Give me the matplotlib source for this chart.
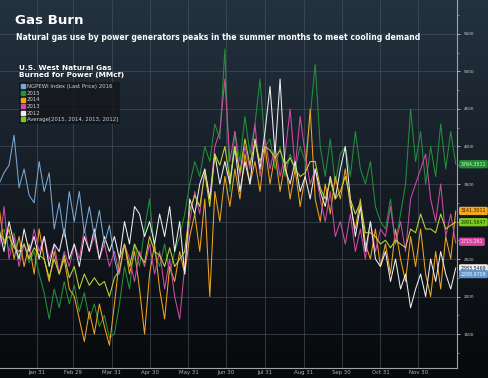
import numpy as np
import matplotlib.pyplot as plt
from matplotlib.lines import Line2D
from matplotlib.colors import LinearSegmentedColormap
from matplotlib.transforms import blended_transform_factory

# day of year (2016 calendar), sampled every 4 days
days = np.arange(0, 365, 4)
days_2016 = list(range(0, 93, 4)) + [95]

ngpewi_2016 = [3500, 3650, 3750, 4150, 3450, 3700, 3350, 3250, 3800, 3400, 3650, 2900,
               3250, 2800, 3400, 3000, 3400, 2850, 3200, 2800, 3150, 2700, 2950, 2500, 2299]

y2015 = [2750, 2900, 2600, 2850, 2500, 2700, 2450, 2600,
         2300, 2050, 1700, 2100, 1850, 2200, 1900,
         2150, 1800, 2050, 1700, 1900, 1600, 1750, 1450,
         1500, 1900, 2400, 2100, 2700, 2400, 2900,
         3300, 2600, 2400, 2700, 2300, 2600, 2800, 3100,
         3500, 3800, 3600, 4000, 3800, 4300, 4100, 5300,
         3400, 4200, 3800, 4400, 3900, 4300, 4900, 4000,
         4100, 3700, 4000, 3600, 3900, 3700, 4000,
         3800, 4400, 5100, 4000, 3600, 4100, 3500, 3900,
         4000, 3600, 4200, 3700, 3500, 3800, 3200, 3000,
         2900, 3300, 2700, 3100, 3500, 4500, 3800,
         4200, 3500, 4000, 3600, 4300, 3700, 4200, 3764]

y2014 = [3200, 2700, 2900, 2500, 2800, 2400, 2700, 2300,
         2900, 2500, 2200, 2600, 2300, 2500, 2100,
         2000, 1700, 1400, 1800, 1500, 1900, 1600, 1350,
         1900, 2500, 2700, 2300, 2600, 2100, 1500,
         2300, 2700, 2100, 1700, 2400, 2200, 2600, 2300,
         2800, 3100, 2600, 3300, 2000, 3400, 3000, 3600,
         3200, 3700, 3300, 3900, 3500, 3800, 3400, 4000,
         3500, 3900, 3400, 3800, 3300, 3700, 3200,
         3600, 4500, 3300, 3000, 3500, 3100, 3600, 3300,
         3700, 3200, 2900, 3300, 2700, 2500, 2900, 2400,
         2700, 2300, 2900, 2500, 2200, 2800, 2400,
         2900, 2300, 2000, 2600, 2100, 2800, 2500, 3141]

y2013 = [2600, 3200, 2500, 2800, 2400, 2700, 2500, 2900,
         2600, 2800, 2500, 2700, 2300, 2600, 2400,
         2700, 2500, 2900, 2600, 2800, 2500, 2700, 2400,
         2600, 2300, 2700, 2500, 2200, 2600, 2400,
         2700, 2300, 2600, 2100, 2500, 2000, 1700, 2400,
         3000, 3400, 3100, 3700, 3300, 4000, 4200, 4900,
         3800, 4200, 3600, 4000, 3700, 4300, 3600, 4100,
         3700, 4000, 3600, 3900, 4500, 3700, 4400,
         3900, 3500, 3700, 3300, 3000, 3400, 2800, 3000,
         2700, 3100, 2600, 2900, 2500, 3000, 2600, 2900,
         2800, 3200, 2700, 3000, 2600, 3300, 3500,
         3700, 3900, 3300, 3000, 3500, 2800, 3100, 2715]

y2012 = [2900, 2600, 3000, 2700, 2500, 2900, 2600, 2800,
         2500, 2800, 2400, 2700, 2600, 2900, 2500,
         2700, 2400, 2800, 2600, 2900, 2500, 2800, 2600,
         2800, 2500, 3000, 2700, 3200, 3100, 2800,
         3000, 2700, 3100, 2800, 3200, 2600, 3000, 2300,
         3300, 3100, 3500, 3700, 3300, 3900, 3500, 3800,
         3500, 4000, 3400, 3800, 3500, 4100, 3700, 4200,
         4800, 3900, 4900, 3700, 3500, 3800, 3400,
         3600, 3300, 3700, 3400, 3200, 3600, 3300, 3700,
         4000, 3300, 2800, 3200, 2600, 3000, 2500, 2400,
         2600, 2200, 2500, 2100, 2300, 1850, 2100,
         2300, 2000, 2500, 2200, 2600, 2300, 2100, 2380]

y_avg = [2850, 2750, 2800, 2650, 2600, 2700, 2500, 2650,
         2550, 2500, 2250, 2500, 2300, 2550, 2250,
         2400, 2100, 2300, 2150, 2250, 2150, 2200, 2000,
         2250, 2350, 2700, 2400, 2700, 2550, 2450,
         2800, 2600, 2550, 2400, 2650, 2400, 2500, 2600,
         3150, 3350, 3200, 3650, 3200, 3900, 3750, 4000,
         3550, 4000, 3650, 4100, 3750, 4050, 3800, 4000,
         3950, 3850, 3950, 3750, 3850, 3700, 3600,
         3650, 3800, 3800, 3450, 3300, 3550, 3300, 3400,
         3600, 3300, 3100, 3250, 2850, 2850, 2800, 2700,
         2750, 2650, 2750, 2700, 2650, 2900, 2850,
         3100, 2900, 2900, 2850, 3100, 2900, 2950, 2991]

month_ticks = [30, 59, 90, 120, 151, 181, 212, 243, 273, 304, 334]
month_labels = ['Jan 31', 'Feb 29', 'Mar 31', 'Apr 30', 'May 31', 'Jun 30',
                'Jul 31', 'Aug 31', 'Sep 30', 'Oct 31', 'Nov 30']

c2016, c2015, c2014, c2013, c2012, cavg = '#7ba7d2', '#23903a', '#f2a31f', '#d04aa6', '#eeeeee', '#c2d43a'

fig = plt.figure(figsize=(4.88, 3.78), dpi=100)

# dark gradient background
bg = fig.add_axes([0, 0, 1, 1], zorder=-10)
cmap = LinearSegmentedColormap.from_list('bg', ['#243240', '#151c24', '#07090b'])
bg.imshow(np.linspace(0, 1, 256).reshape(-1, 1), aspect='auto', cmap=cmap, extent=[0, 1, 0, 1])
bg.axis('off')

ax = fig.add_axes([0, 10 / 378, 457 / 488, 368 / 378])
ax.patch.set_alpha(0)
ax.set_xlim(0.8, 365)
ax.set_ylim(1047, 5953)

lw = 0.75
ax.plot(days, y2015, color=c2015, lw=lw)
ax.plot(days, y2014, color=c2014, lw=lw)
ax.plot(days, y2013, color=c2013, lw=lw)
ax.plot(days, y2012, color=c2012, lw=lw)
ax.plot(days, y_avg, color=cavg, lw=lw)
ax.plot(days_2016, ngpewi_2016, color=c2016, lw=lw)

for s in ['top', 'left']:
    ax.spines[s].set_visible(False)
for s in ['right', 'bottom']:
    ax.spines[s].set_color('#a0a4a8')
    ax.spines[s].set_linewidth(0.8)

yt = np.arange(1500, 5501, 500)
ax.yaxis.tick_right()
ax.set_yticks(yt)
# the 3000 label sits under the average tag
ax.set_yticklabels(['' if v == 3000 else str(v) for v in yt])
ax.set_yticks(np.arange(1250, 5800, 250), minor=True)
ax.tick_params(axis='y', which='major', labelsize=3.0, labelcolor='#d0d0d0', color='#c0c4c8',
               length=2.5, width=0.6, pad=2.5)
ax.tick_params(axis='y', which='minor', color='#a0a4a8', length=1.5, width=0.5)
ax.set_xticks(month_ticks)
ax.set_xticklabels(month_labels)
ax.tick_params(axis='x', labelsize=3.9, labelcolor='#b4b4b4', length=0, pad=1.5)
ax.grid(True, which='major', color='#4a5561', lw=0.6, alpha=0.7)
ax.set_axisbelow(True)

# titles
fig.text(15 / 488, 1 - 24 / 378, 'Gas Burn', color='white', fontsize=9.6, fontweight='bold', va='baseline')
fig.text(16 / 488, 1 - 40 / 378,
         'Natural gas use by power generators peaks in the summer months to meet cooling demand',
         color='white', fontsize=5.6, fontweight='bold', va='baseline')
fig.text(19 / 488, 1 - 70 / 378, 'U.S. West Natural Gas', color='white', fontsize=5.3,
         fontweight='bold', va='baseline')
fig.text(19 / 488, 1 - 77.5 / 378, 'Burned for Power (MMcf)', color='white', fontsize=5.3,
         fontweight='bold', va='baseline')

labels = ['NGPEWI Index (Last Price) 2016', '2015', '2014', '2013', '2012',
          'Average[2015, 2014, 2013, 2012]']
colors = [c2016, c2015, c2014, c2013, c2012, '#7fc81e']
handles = [Line2D([], [], marker='s', ls='', color=c, markersize=3.0) for c in colors]
leg = fig.legend(handles, labels, loc='upper left', bbox_to_anchor=(19 / 488, 1 - 82 / 378),
                 fontsize=3.9, frameon=True, facecolor='#14181d', edgecolor='none', framealpha=0.85,
                 fancybox=False, handlelength=0.7, handletextpad=0.3, borderpad=0.4,
                 labelspacing=0.3, borderaxespad=0)
for t in leg.get_texts():
    t.set_color('#d0d0d0')

# last-value tags on the right axis
tr = blended_transform_factory(ax.transAxes, ax.transData)
tags = [('2383.5469', 2375, c2012, '#222222'),
        ('3764.3511', 3764, '#1f8f30', '#e8f0e8'),
        ('3141.3011', 3141, '#f5a623', '#3a2500'),
        ('2991.5647', 2991, '#7cc91f', '#1a3300'),
        ('2715.261', 2730, '#d8439f', '#fbe6f4'),
        ('2298.9709', 2299, '#5f97cc', '#f0f6ff')]
for txt, yv, fc, tc in tags:
    ax.text(1.008, yv, txt, transform=tr, fontsize=3.4, color=tc, va='center', ha='left',
            bbox=dict(boxstyle='round,pad=0.35,rounding_size=0.3', fc=fc, ec='none'), clip_on=False)

plt.savefig('out.png', dpi=100)
